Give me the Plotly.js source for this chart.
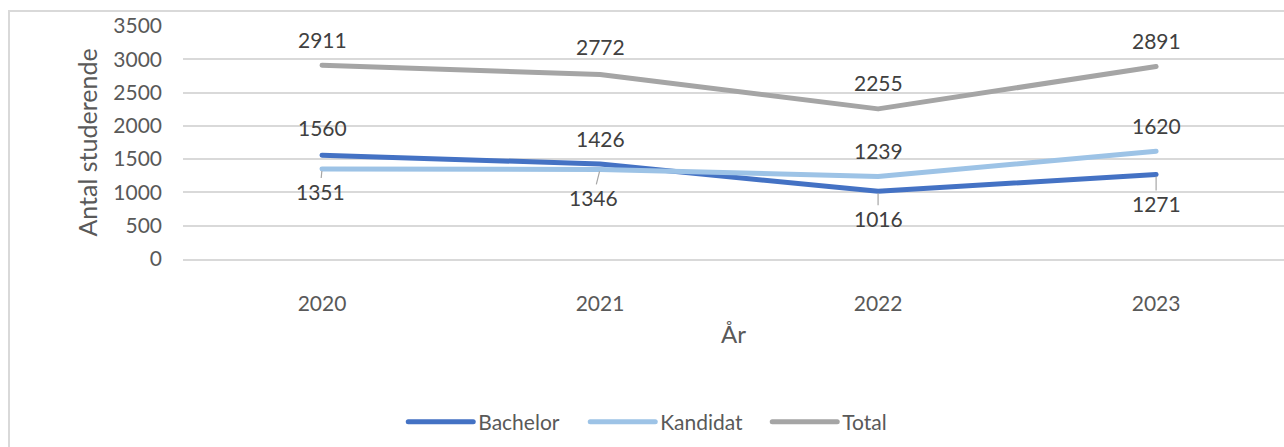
<!DOCTYPE html>
<html>
<head>
<meta charset="utf-8">
<script src="https://cdn.plot.ly/plotly-3.0.1.min.js"></script>
<style>
  html, body { margin: 0; padding: 0; background: #ffffff; }
  #frame { position: absolute; left: 8px; top: 10px; width: 1400px; height: 600px;
           border-left: 2px solid #D9D9D9; border-top: 2px solid #D9D9D9; }
  #chart { position: absolute; left: 0; top: 0; width: 1284px; height: 447px; }
  #chart path.js-line { stroke-linecap: round; stroke-linejoin: round; }
</style>
</head>
<body>
<div id="frame"></div>
<div id="chart"></div>
<script>
const years = ['2020', '2021', '2022', '2023'];
const bachelor = [1560, 1426, 1016, 1271];
const kandidat = [1351, 1346, 1239, 1620];
const total = [2911, 2772, 2255, 2891];
const seriesNames = ['Bachelor', 'Kandidat', 'Total'];
const yTickVals = [0, 500, 1000, 1500, 2000, 2500, 3000, 3500];

const colors = ['#4472C4', '#9DC3E6', '#A5A5A5'];
const font = 'Lato, "Open Sans", sans-serif';

const traces = [bachelor, kandidat, total].map((vals, i) => ({
  type: 'scatter', mode: 'lines', x: [0, 1, 2, 3], y: vals, name: seriesNames[i],
  line: { color: colors[i], width: 5 }, hoverinfo: 'skip'
}));

// label placement: offsets in px (positive = below), arrow for moved labels
const place = {
  Bachelor: [[0, -28, false], [0, -26, false], [0, 27, true], [0, 29, true]],
  Kandidat: [[-2, 22, true], [-7, 28, true], [0, -26, false], [0, -26, false]],
  Total: [[0, -26, false], [0, -28, false], [0, -26, false], [0, -26, false]]
};
const annotations = [];
[bachelor, kandidat, total].forEach((vals, i) => {
  vals.forEach((v, j) => {
    const p = place[seriesNames[i]][j];
    annotations.push({
      x: j, y: v, xref: 'x', yref: 'y', text: String(v),
      showarrow: true, ax: p[0], ay: p[1], arrowhead: 0, arrowwidth: p[2] ? 1.2 : 0.01,
      arrowcolor: p[2] ? '#A6A6A6' : 'rgba(0,0,0,0)', standoff: 2, borderpad: 0,
      font: { family: font, size: 21, color: '#404040' }
    });
  });
});

const layout = {
  width: 1284, height: 447,
  margin: { l: 183, r: 0, t: 26, b: 188 },
  paper_bgcolor: 'rgba(0,0,0,0)', plot_bgcolor: 'rgba(0,0,0,0)',
  font: { family: font, size: 21, color: '#595959' },
  showlegend: true,
  legend: { orientation: 'h', x: 0.448, xanchor: 'center', y: -0.70, yanchor: 'middle',
            font: { family: font, size: 21, color: '#595959' }, itemwidth: 65,
            entrywidth: 102, entrywidthmode: 'pixels' },
  xaxis: {
    range: [-0.5, 3.46], tickvals: [0, 1, 2, 3], ticktext: years,
    showgrid: false, zeroline: false, showline: true, linecolor: '#D9D9D9', linewidth: 2, ticks: '',
    ticklabelstandoff: 25, tickfont: { family: font, size: 21, color: '#595959' },
    title: { text: 'År', font: { family: font, size: 24, color: '#595959' }, standoff: 12 }
  },
  yaxis: {
    range: [0, 3500], tickvals: yTickVals, showgrid: true, gridcolor: '#D9D9D9', gridwidth: 2,
    zeroline: false, showline: false, ticks: '', ticklabelstandoff: 20,
    tickfont: { family: font, size: 21, color: '#595959' },
    title: { text: 'Antal studerende', font: { family: font, size: 25, color: '#595959' }, standoff: 8 }
  },
  annotations: annotations
};

Plotly.newPlot('chart', traces, layout, { staticPlot: true, displayModeBar: false });
</script>
</body>
</html>
